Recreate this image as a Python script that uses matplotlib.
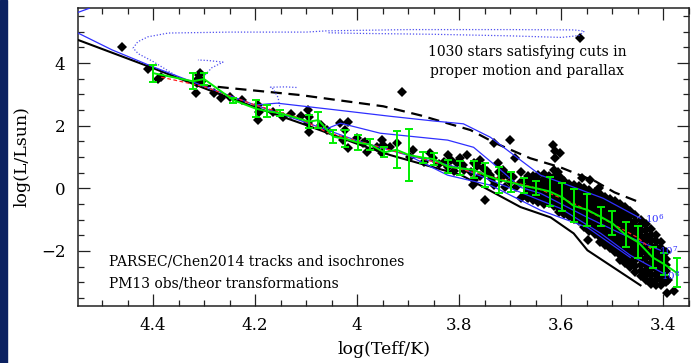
import matplotlib
matplotlib.use('Agg')
import matplotlib.pyplot as plt
from matplotlib.patches import Rectangle
from matplotlib.ticker import MultipleLocator, FuncFormatter

plt.rcParams.update({
    'font.family': 'DejaVu Serif',
    'mathtext.fontset': 'dejavuserif',
    'font.size': 12,
    'axes.linewidth': 1.1,
    'axes.edgecolor': '#222222',
})

# --- stars (logTeff, logL) ---
hot_stars = [(4.461, 4.51), (4.410, 3.81), (4.390, 3.49), (4.384, 3.56), (4.316, 3.04),
             (4.314, 3.36), (4.310, 3.62), (4.308, 3.68), (4.312, 3.50), (4.305, 3.42),
             (4.280, 3.05), (4.266, 2.88), (4.250, 2.93), (4.226, 2.82), (4.194, 2.66),
             (4.192, 2.43), (4.194, 2.18), (4.165, 2.43), (4.145, 2.27), (4.130, 2.36),
             (4.110, 2.30), (4.096, 2.50), (4.094, 2.27), (4.096, 2.08), (4.094, 1.79),
             (4.070, 2.02), (4.059, 1.86), (4.033, 2.08), (4.018, 2.11), (4.023, 1.86),
             (4.027, 1.54), (4.018, 1.28), (4.000, 1.60), (3.988, 1.44), (3.980, 1.15),
             (3.984, 1.47), (3.951, 1.54), (3.949, 1.38), (3.961, 1.31),
             (3.912, 3.07), (3.563, 4.80)]

warm_stars = [(3.935, 1.31), (3.951, 1.12), (3.922, 1.44), (3.890, 1.22), (3.896, 0.99),
              (3.870, 0.85), (3.857, 1.12), (3.851, 0.96), (3.840, 0.78), (3.823, 1.06),
              (3.817, 0.90), (3.823, 0.67), (3.810, 0.55), (3.798, 0.96), (3.792, 0.74),
              (3.784, 1.06), (3.772, 0.80), (3.778, 0.51), (3.772, 0.26), (3.774, 0.10),
              (3.760, 0.38), (3.759, 0.90), (3.753, 0.64), (3.739, 0.42), (3.733, 0.10),
              (3.725, 0.80), (3.723, 0.51), (3.719, 0.32), (3.710, 0.05), (3.706, 0.42),
              (3.700, 0.19), (3.690, 0.98), (3.680, 0.51), (3.680, 0.19), (3.680, -0.32),
              (3.671, -0.22), (3.667, -0.29), (3.749, -0.38), (3.700, 1.54), (3.733, 1.44),
              (3.830, 0.85), (3.805, 0.80), (3.790, 0.60), (3.765, 0.70), (3.745, 0.55),
              (3.735, 0.30), (3.715, 0.60), (3.695, 0.35), (3.688, 0.05)]

cool_outliers = [(3.616, 1.38), (3.612, 1.20), (3.602, 1.12), (3.612, 0.96), (3.614, 0.58),
                 (3.606, 0.51), (3.600, 0.32), (3.559, 0.32), (3.543, 0.26), (3.527, 0.00),
                 (3.523, -0.22), (3.547, -1.66), (3.394, -3.36), (3.380, -3.27), (3.392, -2.94)]

# dense lower main sequence, column by column
dense_logt = [3.665, 3.655, 3.645, 3.635, 3.625, 3.615, 3.605, 3.595, 3.585, 3.575,
              3.565, 3.555, 3.545, 3.535, 3.525, 3.515, 3.505, 3.495, 3.485, 3.475,
              3.465, 3.455, 3.445, 3.435, 3.425, 3.415, 3.405, 3.395]
dense_logl = [
    [0.38, 0.22, 0.08, -0.05, -0.18, -0.30],
    [0.40, 0.25, 0.12, -0.02, -0.15, -0.28, -0.38],
    [0.42, 0.28, 0.15, 0.02, -0.10, -0.22, -0.35, -0.45],
    [0.45, 0.30, 0.16, 0.03, -0.12, -0.25, -0.38, -0.50],
    [0.40, 0.25, 0.10, -0.05, -0.20, -0.33, -0.48],
    [0.35, 0.20, 0.05, -0.10, -0.25, -0.40, -0.55],
    [0.28, 0.12, -0.02, -0.18, -0.32, -0.48, -0.62, -0.75],
    [0.22, 0.08, -0.08, -0.22, -0.38, -0.52, -0.68, -0.82],
    [0.15, 0.00, -0.15, -0.30, -0.45, -0.60, -0.75, -0.90],
    [0.12, -0.05, -0.20, -0.36, -0.52, -0.68, -0.84, -0.98],
    [0.08, -0.10, -0.26, -0.42, -0.58, -0.74, -0.90, -1.06],
    [0.02, -0.15, -0.32, -0.48, -0.64, -0.80, -0.96, -1.12, -1.25],
    [-0.05, -0.22, -0.40, -0.56, -0.72, -0.88, -1.04, -1.20, -1.35],
    [-0.12, -0.30, -0.48, -0.64, -0.80, -0.96, -1.12, -1.28, -1.45],
    [-0.20, -0.38, -0.55, -0.72, -0.88, -1.04, -1.20, -1.36, -1.55, -1.70],
    [-0.28, -0.45, -0.62, -0.80, -0.96, -1.12, -1.30, -1.48, -1.65, -1.80],
    [-0.35, -0.52, -0.70, -0.88, -1.05, -1.22, -1.40, -1.58, -1.76, -1.92],
    [-0.42, -0.60, -0.78, -0.96, -1.14, -1.32, -1.50, -1.68, -1.86, -2.04],
    [-0.50, -0.68, -0.86, -1.04, -1.22, -1.40, -1.58, -1.76, -1.95, -2.14, -2.30],
    [-0.60, -0.78, -0.96, -1.14, -1.32, -1.50, -1.68, -1.86, -2.05, -2.24, -2.40],
    [-0.72, -0.90, -1.08, -1.26, -1.44, -1.62, -1.80, -1.98, -2.16, -2.35, -2.52],
    [-0.85, -1.03, -1.21, -1.39, -1.57, -1.75, -1.93, -2.11, -2.30, -2.48, -2.66],
    [-1.00, -1.18, -1.36, -1.54, -1.72, -1.90, -2.08, -2.26, -2.45, -2.63, -2.80],
    [-1.15, -1.33, -1.51, -1.69, -1.87, -2.05, -2.23, -2.42, -2.60, -2.78, -2.92],
    [-1.30, -1.48, -1.66, -1.84, -2.02, -2.20, -2.38, -2.56, -2.74, -2.92, -3.05],
    [-1.50, -1.68, -1.86, -2.04, -2.22, -2.40, -2.58, -2.76, -2.94, -3.10],
    [-1.70, -1.90, -2.10, -2.30, -2.50, -2.70, -2.90, -3.08],
    [-2.05, -2.25, -2.45, -2.65, -2.85, -3.00],
]

# --- binned sequence with error bars (green) ---
bin_logt = [4.400, 4.322, 4.300, 4.243, 4.198, 4.176, 4.151, 4.094, 4.076, 4.047,
            4.023, 3.998, 3.974, 3.947, 3.923, 3.898, 3.871, 3.849, 3.823, 3.798,
            3.772, 3.749, 3.723, 3.698, 3.674, 3.649, 3.623, 3.598, 3.576, 3.549,
            3.523, 3.500, 3.474, 3.449, 3.421, 3.398, 3.374]
bin_logl = [3.68, 3.42, 3.49, 2.82, 2.54, 2.46, 2.40, 2.13, 2.18, 1.65,
            1.58, 1.46, 1.39, 1.15, 1.23, 1.06, 0.98, 0.93, 0.69, 0.64,
            0.59, 0.42, 0.27, 0.19, 0.08, 0.00, -0.10, -0.29, -0.56, -0.69,
            -0.91, -1.12, -1.49, -1.73, -2.21, -2.43, -2.70]
bin_err = [0.27, 0.26, 0.19, 0.08, 0.27, 0.19, 0.10, 0.21, 0.26, 0.21,
           0.27, 0.24, 0.18, 0.16, 0.59, 0.83, 0.18, 0.19, 0.21, 0.22,
           0.27, 0.38, 0.42, 0.32, 0.24, 0.22, 0.45, 0.45, 0.53, 0.50,
           0.30, 0.38, 0.40, 0.51, 0.35, 0.35, 0.46]

# --- model curves ---
zams_logt = [4.547, 4.400, 4.300, 4.249, 4.200, 4.100, 4.000, 3.935, 3.796, 3.680,
             3.621, 3.576, 3.549, 3.445]
zams_logl = [4.74, 3.84, 3.20, 2.88, 2.59, 2.02, 1.42, 1.06, 0.42, -0.60,
             -0.93, -1.44, -1.98, -3.10]

dash_logt = [4.308, 4.249, 4.112, 3.949, 3.876, 3.778, 3.729, 3.661, 3.602, 3.533, 3.496, 3.451]
dash_logl = [3.30, 3.20, 2.98, 2.62, 2.33, 1.86, 1.44, 0.96, 0.67, 0.22, -0.13, -0.42]

iso_ms_logt = [4.547, 4.480, 4.400, 4.300, 4.200, 4.100, 4.000, 3.900, 3.796, 3.680,
               3.602, 3.523, 3.465, 3.400]
iso_ms_logl = [4.96, 4.42, 3.88, 3.26, 2.66, 2.10, 1.52, 1.05, 0.64, -0.13,
               -0.64, -1.44, -2.14, -2.72]
iso6_logt = [4.200, 4.157, 4.050, 3.935, 3.850, 3.792, 3.739, 3.706, 3.641, 3.596, 3.518, 3.445]
iso6_logl = [2.66, 2.72, 2.52, 2.30, 2.15, 2.06, 1.63, 1.22, 0.42, 0.16, -0.32, -0.96]
iso7_logt = [4.060, 4.033, 3.955, 3.823, 3.772, 3.725, 3.680, 3.641, 3.549, 3.484, 3.406]
iso7_logl = [1.90, 2.08, 1.76, 1.54, 1.31, 0.67, 0.03, -0.16, -0.93, -1.44, -1.98]
iso_low_logt = [3.900, 3.823, 3.739, 3.641, 3.549, 3.465]
iso_low_logl = [1.05, 0.42, 0.10, -0.70, -1.25, -2.21]
corner_logt = [4.547, 4.525]
corner_logl = [5.62, 5.75]

track_a_logt = [4.357, 4.400, 4.429, 4.439, 4.430, 4.410, 4.370, 4.250, 4.100, 4.060,
                3.900, 3.700, 3.575, 3.555, 3.565, 3.600, 3.700, 3.850, 4.000, 4.060]
track_a_logl = [3.62, 4.05, 4.30, 4.48, 4.68, 4.84, 4.96, 4.99, 4.99, 5.03,
                5.07, 5.07, 5.06, 5.02, 4.88, 4.82, 4.87, 4.92, 4.95, 4.97]
track_b_logt = [4.298, 4.285, 4.263, 4.290, 4.312]
track_b_logl = [3.62, 3.85, 4.03, 4.08, 4.10]
track_c_logt = [4.152, 4.155, 4.165, 4.170, 4.140, 4.118]
track_c_logl = [2.62, 2.90, 3.18, 3.23, 3.24, 3.22]

red_logt = [4.384, 4.300, 4.200, 4.118, 4.059, 3.935, 3.876, 3.800, 3.720, 3.647,
            3.576, 3.523, 3.451, 3.420]
red_logl = [3.55, 3.25, 2.66, 2.27, 1.79, 1.22, 0.96, 0.62, 0.30, 0.00,
            -0.48, -0.93, -1.57, -2.00]

fig = plt.figure(figsize=(6.91, 3.63), dpi=100)
fig.patches.append(Rectangle((0, 0), 7 / 691, 1, transform=fig.transFigure,
                             color='#0b2161', zorder=0))
ax = fig.add_axes([78 / 691, 1 - 306 / 363, 611 / 691, 298 / 363])

# stars
sx = [p[0] for p in hot_stars + warm_stars + cool_outliers]
sy = [p[1] for p in hot_stars + warm_stars + cool_outliers]
for t, ls in zip(dense_logt, dense_logl):
    sx += [t] * len(ls)
    sy += ls
ax.plot(sx, sy, 'D', color='black', ms=5.0, mew=0, zorder=2)

# models
ax.plot(zams_logt, zams_logl, color='black', lw=1.5, zorder=3)
ax.plot(dash_logt, dash_logl, color='black', lw=1.6, ls=(0, (5, 3)), zorder=3)
blue = '#2f2fff'
for lt, ll in [(iso_ms_logt, iso_ms_logl), (iso6_logt, iso6_logl),
               (iso7_logt, iso7_logl), (iso_low_logt, iso_low_logl),
               (corner_logt, corner_logl)]:
    ax.plot(lt, ll, color=blue, lw=0.9, zorder=4)
for lt, ll in [(track_a_logt, track_a_logl), (track_b_logt, track_b_logl),
               (track_c_logt, track_c_logl)]:
    ax.plot(lt, ll, color='#5050f0', lw=0.9, ls=(0, (1, 1.5)), zorder=4)
ax.plot(red_logt, red_logl, color='#ff2020', lw=0.9, ls=(0, (3, 2)), zorder=5)

ax.errorbar(bin_logt, bin_logl, yerr=bin_err, color='#00ee00', lw=1.4,
            capsize=2.9, capthick=1.4, zorder=6)

ax.text(3.437, -0.98, r'$10^6$', color=blue, fontsize=7.5, ha='left', va='center', zorder=7)
ax.text(3.408, -1.98, r'$10^7$', color=blue, fontsize=7.5, ha='left', va='center', zorder=7)
ax.text(3.404, -2.78, r'$10^8$', color=blue, fontsize=7.5, ha='left', va='center', zorder=7)

ax.text(0.735, 0.852, '1030 stars satisfying cuts in', transform=ax.transAxes,
        ha='center', va='center', fontsize=10)
ax.text(0.735, 0.789, 'proper motion and parallax', transform=ax.transAxes,
        ha='center', va='center', fontsize=10)
ax.text(0.0507, 0.151, 'PARSEC/Chen2014 tracks and isochrones', transform=ax.transAxes,
        ha='left', va='center', fontsize=10)
ax.text(0.0507, 0.077, 'PM13 obs/theor transformations', transform=ax.transAxes,
        ha='left', va='center', fontsize=10)

ax.set_xlim(4.547, 3.350)
ax.set_ylim(-3.76, 5.76)
ax.xaxis.set_major_locator(MultipleLocator(0.2))
ax.xaxis.set_minor_locator(MultipleLocator(0.05))
ax.yaxis.set_major_locator(MultipleLocator(2))
ax.yaxis.set_minor_locator(MultipleLocator(0.5))
ax.xaxis.set_major_formatter(FuncFormatter(lambda v, p: '%g' % round(v, 2)))
ax.yaxis.set_major_formatter(FuncFormatter(lambda v, p: ('%g' % v).replace('-', '\u2212')))
ax.tick_params(which='both', direction='in', top=True, right=True, width=0.9,
               color='#222222', labelsize=12)
ax.tick_params(which='major', length=8.5)
ax.tick_params(which='minor', length=4.5)
ax.tick_params(axis='x', pad=8)
ax.tick_params(axis='y', pad=9)

ax.set_xlabel('log(Teff/K)', fontsize=12.5)
ax.set_ylabel('log(L/Lsun)', fontsize=12.5)
ax.xaxis.set_label_coords(0.5, -0.117)
ax.yaxis.set_label_coords(-0.077, 0.5)

fig.savefig('out.png', dpi=100, facecolor='white')
